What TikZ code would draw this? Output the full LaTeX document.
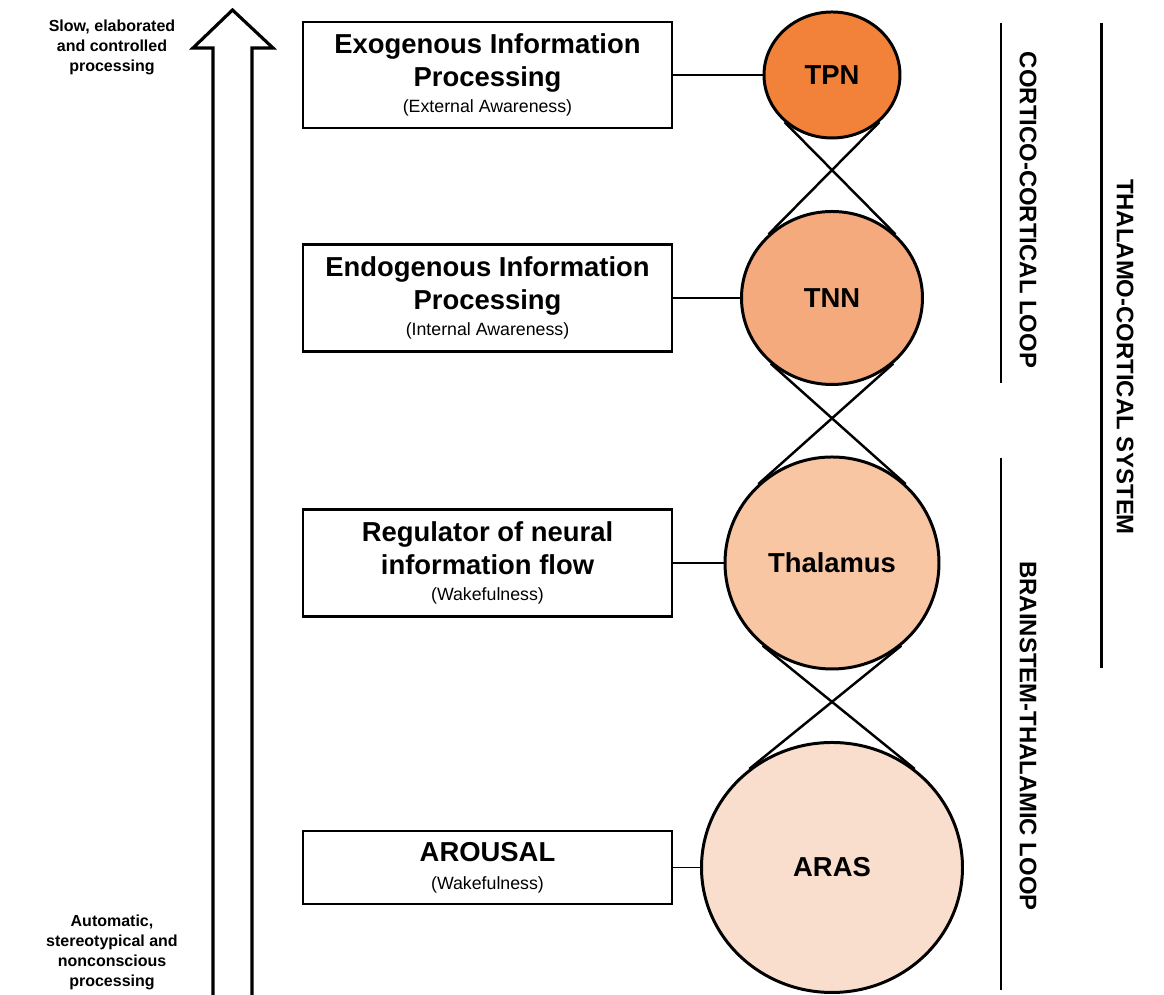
\documentclass[tikz,border=0pt]{standalone}
\usepackage{fontspec}
\setmainfont{Liberation Sans}
\usepackage{tikz}
\usetikzlibrary{shapes.geometric}

\definecolor{tpncol}{RGB}{242,130,58}
\definecolor{tnncol}{RGB}{244,170,125}
\definecolor{thalcol}{RGB}{248,198,163}
\definecolor{arascol}{RGB}{250,222,205}

\newcommand{\boxtitle}{\fontsize{15.6}{18.8}\selectfont\bfseries}
\newcommand{\boxsub}{\fontsize{10.1}{12}\selectfont\mdseries}

\begin{document}
\begin{tikzpicture}[
	infobox/.style={draw, line width=1.5pt, minimum width=7.38cm, align=center, inner sep=0pt, font=\boxtitle},
	region/.style={ellipse, draw, line width=1.7pt, inner sep=0pt, font=\boxtitle},
	looplabel/.style={rotate=-90, font=\fontsize{13.6}{16}\selectfont\bfseries},
	sidetext/.style={align=center, font=\fontsize{9.1}{11.4}\selectfont\bfseries},
	link/.style={line width=1pt},
	cross/.style={line width=1.4pt}
	]
	\useasboundingbox (0,0) rectangle (23.28,19.9);

	% grande fleche creuse
	\draw [line width=1.8pt, line join=miter] (4.26,0) -- (4.26,18.94) -- (3.86,18.94) -- (4.65,19.7)
		-- (5.46,18.94) -- (5.04,18.94) -- (5.04,0);
	\node [sidetext] (slow) at (2.24,18.96) {Slow, elaborated\\and controlled\\processing};
	\node [sidetext] (auto) at (2.24,0.86) {Automatic,\\stereotypical and\\nonconscious\\processing};

	% les cercles
	\node [region, fill=tpncol, minimum width=2.72cm, minimum height=2.52cm] (tpn) at (16.64,18.4) {TPN};
	\node [region, fill=tnncol, minimum width=3.62cm, minimum height=3.46cm] (tnn) at (16.64,13.94) {TNN};
	\node [region, fill=thalcol, minimum width=4.28cm, minimum height=4.24cm] (thal) at (16.64,8.64) {Thalamus};
	\node [region, fill=arascol, minimum width=5.22cm, minimum height=5.0cm] (aras) at (16.64,2.55) {ARAS};

	\draw [cross] (tpn.-135) -- (tnn.45);
	\draw [cross] (tpn.-45) -- (tnn.135);
	\draw [cross] (tnn.-133) -- (thal.47);
	\draw [cross] (tnn.-47) -- (thal.133);
	\draw [cross] (thal.-130) -- (aras.50);
	\draw [cross] (thal.-50) -- (aras.130);

	% les boites
	\node [infobox, minimum height=2.12cm] (exo) at (9.75,18.4)
		{Exogenous Information\\Processing\\[-4pt]\boxsub (External Awareness)};
	\node [infobox, minimum height=2.14cm] (endo) at (9.75,13.94)
		{Endogenous Information\\Processing\\[-4pt]\boxsub (Internal Awareness)};
	\node [infobox, minimum height=2.14cm] (regul) at (9.75,8.64)
		{Regulator of neural\\information flow\\[-4pt]\boxsub (Wakefulness)};
	\node [infobox, minimum height=1.46cm] (arousal) at (9.75,2.55)
		{AROUSAL\\[-3pt]\boxsub (Wakefulness)};

	\draw [link] (exo) -- (tpn);
	\draw [link] (endo) -- (tnn);
	\draw [link] (regul) -- (thal);
	\draw [link] (arousal) -- (aras);

	% les boucles a droite
	\draw [line width=1.7pt] (20.02,19.44) -- (20.02,12.24);
	\draw [line width=1.7pt] (20.02,10.74) -- (20.02,0.1);
	\draw [line width=1.7pt] (22.02,19.44) -- (22.02,6.54);
	\node [looplabel] (cortico) at (20.56,15.7) {CORTICO-CORTICAL LOOP};
	\node [looplabel] (brainstem) at (20.56,5.18) {BRAINSTEM-THALAMIC LOOP};
	\node [looplabel] (thalamo) at (22.5,12.76) {THALAMO-CORTICAL SYSTEM};
\end{tikzpicture}
\end{document}
